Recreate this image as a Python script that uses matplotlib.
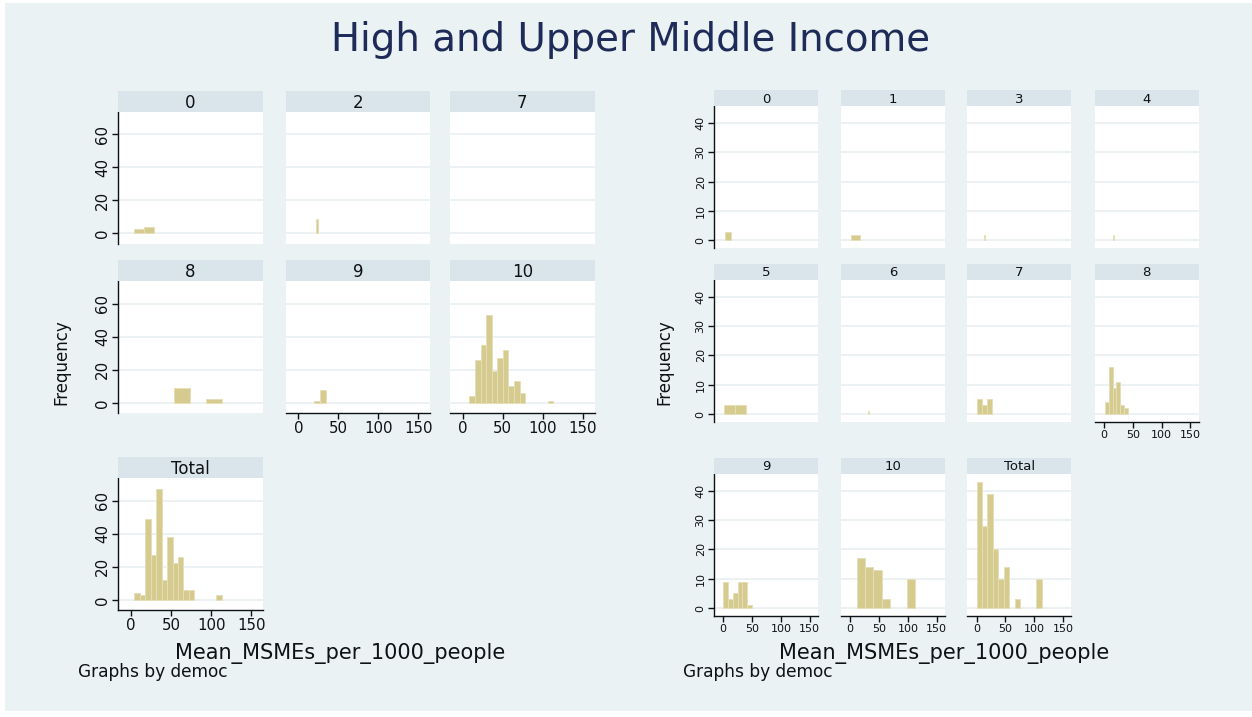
import matplotlib
matplotlib.use("Agg")
import matplotlib.pyplot as plt
from matplotlib.patches import Rectangle
import numpy as np

# ---------------------------------------------------------------------------
# Histogram data: Mean_MSMEs_per_1000_people by democ score
# Each group: first bin edge, bin width, bar counts
# ---------------------------------------------------------------------------
left_groups = ["0", "2", "7", "8", "9", "10", "Total"]
left_bin_start = [4.0, 22.7, 0.0, 53.0, 19.0, 8.3, 4.2]
left_bin_width = [12.5, 1.5, 1.0, 20.1, 7.5, 6.97, 6.8]
left_counts = [
    [3, 4],
    [9],
    [],
    [9, 0, 2],
    [1, 8],
    [4, 26, 35, 53, 19, 27, 32, 10, 13, 6, 0, 0, 0, 0, 1],
    [4, 3, 49, 27, 67, 12, 38, 22, 26, 6, 6, 0, 0, 0, 0, 3],
]

right_groups = ["0", "1", "3", "4", "5", "6", "7", "8", "9", "10", "Total"]
right_bin_start = [2.6, 1.0, 13.3, 15.8, 0.5, 30.3, 0.0, 1.1, 0.2, 11.5, 0.2]
right_bin_width = [11.0, 16.0, 1.5, 1.5, 19.8, 1.5, 9.2, 6.9, 8.2, 14.4, 9.4]
right_counts = [
    [3],
    [2],
    [2],
    [2],
    [3, 3],
    [1],
    [5, 3, 5],
    [4, 16, 9, 11, 3, 2],
    [9, 3, 5, 9, 9, 1],
    [17, 14, 13, 3, 0, 0, 10],
    [43, 28, 39, 20, 10, 14, 0, 3, 0, 0, 0, 10],
]

x_ticks = [0, 50, 100, 150]
left_y_ticks = [0, 20, 40, 60]
right_y_ticks = [0, 10, 20, 30, 40]

title_text = "High and Upper Middle Income"
x_title = "Mean_MSMEs_per_1000_people"
y_title = "Frequency"
note_text = "Graphs by democ"

# ---------------------------------------------------------------------------
# Styling
# ---------------------------------------------------------------------------
W, H, DPI = 1252, 717, 100
BG = "#EAF2F3"
STRIP = "#D9E5EA"
GRID = "#EAF1F3"
BAR = "#D6CB8F"
BAR_EDGE = "#E6DEB6"
INK = "#0E1116"
TITLE_C = "#1E2B58"

plt.rcParams["font.family"] = ["DejaVu Sans"]

fig = plt.figure(figsize=(W / DPI, H / DPI), dpi=DPI, facecolor="white")
fig.patches.append(Rectangle((5 / W, 1 - 711 / H), (W - 5) / W, (711 - 3) / H,
                             transform=fig.transFigure, facecolor=BG,
                             edgecolor="none", zorder=-10))


def rect(x0, y0, w, h):
    """Pixel box measured from the top-left corner -> figure fraction."""
    return [x0 / W, 1 - (y0 + h) / H, w / W, h / H]


def panel(x0, top, w, h, strip_h, label, start, width, counts, xlim, ylim,
          yticks, show_y, show_x, tick_fs, strip_fs):
    ax = fig.add_axes(rect(x0, top, w, h))
    ax.set_facecolor("white")
    counts = np.asarray(counts, dtype=float)
    if counts.size:
        edges = start + width * np.arange(counts.size)
        keep = counts > 0          # empty bins draw nothing
        ax.bar(edges[keep], counts[keep], width=width, align="edge",
               color=BAR, edgecolor=BAR_EDGE, linewidth=0.6, zorder=3)
    ax.set_xlim(*xlim)
    ax.set_ylim(*ylim)
    ax.set_xticks(x_ticks)
    ax.set_yticks(yticks)
    ax.grid(axis="y", color=GRID, linewidth=1.3, zorder=1)
    ax.grid(axis="x", visible=False)
    ax.set_axisbelow(True)
    for s in ("top", "right"):
        ax.spines[s].set_visible(False)
    for s in ("left", "bottom"):
        ax.spines[s].set_color(INK)
        ax.spines[s].set_linewidth(1.0)
    ax.spines["left"].set_visible(show_y)
    ax.spines["bottom"].set_visible(show_x)
    ax.tick_params(axis="y", left=show_y, labelleft=show_y, length=4,
                   width=1.0, color=INK, labelsize=tick_fs, labelcolor=INK,
                   pad=2, labelrotation=90)
    ax.tick_params(axis="x", bottom=show_x, labelbottom=show_x, length=4,
                   width=1.0, color=INK, labelsize=tick_fs, labelcolor=INK,
                   pad=2)
    for lbl in ax.get_yticklabels():
        lbl.set_va("center")

    sax = fig.add_axes(rect(x0, top - strip_h, w, strip_h))
    sax.set_facecolor(STRIP)
    sax.set_xticks([])
    sax.set_yticks([])
    for s in sax.spines.values():
        s.set_visible(False)
    sax.text(0.5, 0.45, label, ha="center", va="center", fontsize=strip_fs,
             color=INK, transform=sax.transAxes)
    return ax


# ---- left graph: 3 x 3 grid -------------------------------------------------
L_cols = [118.3, 285.5, 450.0]
L_tops = [112.0, 281.3, 478.3]
L_w, L_h, L_strip = 144.5, 131.7, 21.0
L_xlim, L_ylim = (-16.0, 164.6), (-6.2, 73.6)
L_cells = [(0, 0), (0, 1), (0, 2), (1, 0), (1, 1), (1, 2), (2, 0)]
L_xaxis = {4, 5, 6}

for i, (r, c) in enumerate(L_cells):
    panel(L_cols[c], L_tops[r], L_w, L_h, L_strip, left_groups[i],
          left_bin_start[i], left_bin_width[i], left_counts[i],
          L_xlim, L_ylim, left_y_ticks, c == 0, i in L_xaxis, 10.8, 12)

# ---- right graph: 3 x 4 grid ------------------------------------------------
R_cols = [714.0, 841.0, 967.3, 1094.7]
R_tops = [106.3, 280.0, 474.0]
R_w, R_h, R_strip = 104.0, 141.7, 16.0
R_xlim, R_ylim = (-16.0, 164.5), (-2.6, 45.7)
R_cells = [(0, 0), (0, 1), (0, 2), (0, 3), (1, 0), (1, 1), (1, 2), (1, 3),
           (2, 0), (2, 1), (2, 2)]
R_xaxis = {7, 8, 9, 10}

for i, (r, c) in enumerate(R_cells):
    panel(R_cols[c], R_tops[r], R_w, R_h, R_strip, right_groups[i],
          right_bin_start[i], right_bin_width[i], right_counts[i],
          R_xlim, R_ylim, right_y_ticks, c == 0, i in R_xaxis, 8.0, 9.5)


# ---- titles and notes ---------------------------------------------------------
renderer = fig.canvas.get_renderer()


def fit_text(x, y, s, length, **kw):
    t = fig.text(x / W, 1 - y / H, s, fontsize=20, **kw)
    bb = t.get_window_extent(renderer)
    span = bb.height if kw.get("rotation", 0) == 90 else bb.width
    t.set_fontsize(20 * length / span)
    return t


fit_text(631, 40, title_text, 600, ha="center", va="center", color=TITLE_C)

for cx, fx, gx in ((340, 61, 78), (944, 664, 683)):
    fit_text(cx, 653, x_title, 330, ha="center", va="center", color=INK)
    fit_text(fx, 362, y_title, 86, ha="center", va="center", rotation=90,
             color=INK)
    fit_text(gx, 672, note_text, 150, ha="left", va="center", color=INK)

fig.savefig("out.png", dpi=DPI, facecolor="white")
